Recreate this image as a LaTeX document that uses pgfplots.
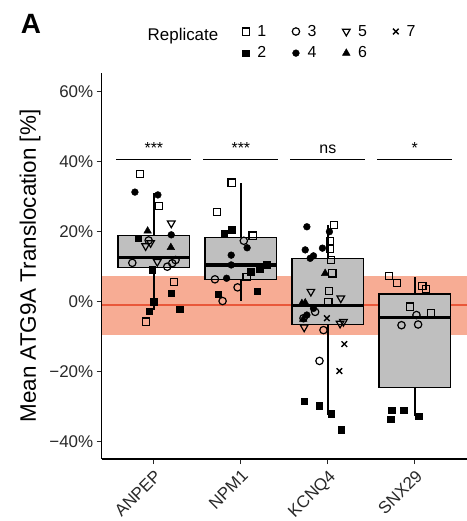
\documentclass[border=0pt]{standalone}
\usepackage{pgfplots}
\pgfplotsset{compat=1.18}
\usepgfplotslibrary{statistics}
\usepackage{fontspec}
\setmainfont{Liberation Sans}
\definecolor{bandc}{RGB}{247,172,148}
\definecolor{linec}{RGB}{233,88,58}
\definecolor{boxg}{RGB}{191,191,191}
\definecolor{tickc}{RGB}{40,40,40}
\begin{document}
\begin{tikzpicture}
\useasboundingbox (-101.7bp,-62bp) rectangle (365.3bp,459bp);
\begin{axis}[
  at={(0,0)}, anchor=south west, scale only axis,
  width=365.3bp, height=386bp,
  xmin=0.4, xmax=4.6, ymin=-44.9, ymax=65.3,
  axis x line*=bottom, axis y line*=left,
  axis line style={line width=1.4bp, -},
  xtick={1,2,3,4}, xticklabels={ANPEP,NPM1,KCNQ4,SNX29},
  ytick={-40,-20,0,20,40,60}, yticklabels={−40\%,−20\%,0\%,20\%,40\%,60\%},
  tick align=outside, major tick length=5bp,
  tick style={line width=1.1bp, color=tickc},
  /pgf/number format/assume math mode=true,
  ticklabel style={font=\fontsize{17}{19}\selectfont, text=tickc},
  xticklabel style={rotate=45, anchor=north east},
  ylabel={Mean ATG9A Translocation [\%]},
  every axis y label/.style={at={(axis description cs:-0.1963,0.5)}, rotate=90, anchor=center, font=\fontsize{22.5}{26}\selectfont},
  clip=false,
  boxplot/draw direction=y,
  legend columns=4,
  legend style={at={(axis description cs:0.3759,1.1347)}, anchor=north west, draw=none, fill=none,
    font=\fontsize{16}{18}\selectfont, row sep=5bp,
    /tikz/every odd column/.append style={column sep=6bp},
    /tikz/every even column/.append style={column sep=24bp}},
  legend image code/.code={\draw[mark repeat=2,mark phase=2,#1] plot coordinates {(0bp,0bp) (5bp,0bp) (10bp,0bp)};},
  legend cell align=left,
]
% control band and line
\addplot[fill=bandc, draw=none, forget plot] coordinates {(0.4,-9.4) (4.6,-9.4) (4.6,7.4) (0.4,7.4)} -- cycle;
\addplot[color=linec, line width=1.8bp, forget plot] coordinates {(0.4,-0.95) (4.6,-0.95)};
% boxplots
\pgfplotsset{boxst/.style={forget plot, fill=boxg, draw=black, line width=1.5bp, solid,
  boxplot/every median/.style={line width=3.4bp}, mark=none}}
\addplot[boxst, boxplot prepared={draw position=1, lower whisker=-2.5, lower quartile=9.8, median=12.6, upper quartile=18.9, upper whisker=31.0, box extend=0.82, whisker extend=0}] coordinates {};
\addplot[boxst, boxplot prepared={draw position=2, lower whisker=0.3, lower quartile=6.4, median=10.5, upper quartile=18.3, upper whisker=33.8, box extend=0.82, whisker extend=0}] coordinates {};
\addplot[boxst, boxplot prepared={draw position=3, lower whisker=-32.4, lower quartile=-6.5, median=-1.1, upper quartile=12.4, upper whisker=21.9, box extend=0.82, whisker extend=0}] coordinates {};
\addplot[boxst, boxplot prepared={draw position=4, lower whisker=-32.5, lower quartile=-24.5, median=-4.5, upper quartile=2.2, upper whisker=7.0, box extend=0.82, whisker extend=0}] coordinates {};
% replicate 1: open squares
\addplot[only marks, forget plot, mark=square, mark size=3.6bp, mark options={line width=1.2bp, draw=black, fill=none}] coordinates {
(0.839,36.5) (1.057,27.3) (1.229,5.7) (0.908,-5.7)
(1.893,34.0) (1.728,25.7) (2.134,18.9) (2.065,7.0)
(3.072,21.9) (3.026,17.4) (3.026,15.0) (3.034,11.9) (3.053,8.1) (3.015,3.1) (3.007,0.0)
(3.705,7.3) (3.797,5.4) (4.088,4.5) (4.126,3.5) (3.943,-1.4) (4.183,-3.3)};
% replicate 2: filled squares
\addplot[only marks, forget plot, mark=square*, mark size=3.3bp, mark options={draw=black, fill=black}] coordinates {
(0.821,18.1) (0.982,9.1) (1.200,2.4) (1.000,0.0) (1.295,-2.1) (0.947,-2.7)
(1.808,19.5) (1.893,20.5) (2.295,10.5) (2.218,9.3) (2.115,8.6) (2.187,3.0) (1.740,2.2)
(2.728,-28.4) (2.900,-29.7) (3.038,-31.9) (3.153,-36.5)
(3.725,-33.5) (3.736,-31.0) (3.874,-31.0) (4.046,-32.7)};
% replicate 3: open circles
\addplot[only marks, forget plot, mark=o, mark size=3.7bp, mark options={line width=1.2bp, draw=black, fill=none}] coordinates {
(0.752,11.1) (1.154,10.0) (1.211,11.0) (1.249,11.9) (0.940,17.5)
(2.034,17.4) (1.702,6.4) (1.962,4.1) (1.790,0.2)
(2.854,-2.9) (2.950,-8.1) (2.904,-16.9) (2.720,-4.7)
(4.019,-3.8) (3.847,-6.7) (4.038,-6.5)};
% replicate 4: filled circles
\addplot[only marks, forget plot, mark=*, mark size=3.4bp, mark options={draw=black, fill=black}] coordinates {
(0.782,31.3) (1.046,30.5) (1.200,19.1)
(2.072,15.4) (1.889,13.3) (1.836,6.7) (1.889,10.5)
(2.759,21.4) (3.018,20.0) (2.938,15.3) (2.740,14.8) (2.797,12.4) (2.835,13.1) (2.835,-1.9) (2.759,-3.8)};
% replicate 5: open down triangles
\addplot[only marks, forget plot, mark=triangle, mark size=4.4bp, mark options={rotate=180, line width=1.2bp, draw=black, fill=none}] coordinates {
(1.200,22.4) (0.905,15.9) (0.962,16.8) (1.039,11.4)
(2.805,2.9) (3.149,1.0) (3.141,-6.2) (3.179,-5.7) (2.728,-7.3)};
% replicate 6: filled triangles
\addplot[only marks, forget plot, mark=triangle*, mark size=4.4bp, mark options={draw=black, fill=black}] coordinates {
(0.928,20.2) (1.195,15.5)
(2.969,8.1) (2.702,-0.5) (2.740,-0.3) (2.717,-5.0)};
% replicate 7: crosses
\addplot[only marks, forget plot, mark=x, mark size=4bp, mark options={line width=1.4bp, draw=black}] coordinates {
(2.989,-4.7) (3.190,-12.1) (3.133,-19.8)};
% legend (row-wise order matches ggplot column-major layout)
\addlegendimage{only marks, mark=square, mark size=3.6bp, mark options={line width=1.2bp, draw=black, fill=none}}
\addlegendentry{1}
\addlegendimage{only marks, mark=o, mark size=3.7bp, mark options={line width=1.2bp, draw=black, fill=none}}
\addlegendentry{3}
\addlegendimage{only marks, mark=triangle, mark size=4.4bp, mark options={rotate=180, line width=1.2bp, draw=black, fill=none}}
\addlegendentry{5}
\addlegendimage{only marks, mark=x, mark size=4bp, mark options={line width=1.4bp, draw=black}}
\addlegendentry{7}
\addlegendimage{only marks, mark=square*, mark size=3.3bp, mark options={draw=black, fill=black}}
\addlegendentry{2}
\addlegendimage{only marks, mark=*, mark size=3.4bp, mark options={draw=black, fill=black}}
\addlegendentry{4}
\addlegendimage{only marks, mark=triangle*, mark size=4.4bp, mark options={draw=black, fill=black}}
\addlegendentry{6}
% significance annotations
\draw[line width=1.1bp] (axis cs:0.57,40.5) -- (axis cs:1.43,40.5) node[midway, above=3bp, font=\fontsize{16}{18}\selectfont] {***};
\draw[line width=1.1bp] (axis cs:1.57,40.5) -- (axis cs:2.43,40.5) node[midway, above=3bp, font=\fontsize{16}{18}\selectfont] {***};
\draw[line width=1.1bp] (axis cs:2.57,40.5) -- (axis cs:3.43,40.5) node[midway, above=2bp, font=\fontsize{16}{18}\selectfont] {ns};
\draw[line width=1.1bp] (axis cs:3.57,40.5) -- (axis cs:4.43,40.5) node[midway, above=3bp, font=\fontsize{16}{18}\selectfont] {*};
\end{axis}
\node[font=\fontsize{28}{32}\selectfont\bfseries] at (-70.7bp,435bp) {A};
\node[font=\fontsize{17}{20}\selectfont] at (81.3bp,423bp) {Replicate};
\end{tikzpicture}
\end{document}
